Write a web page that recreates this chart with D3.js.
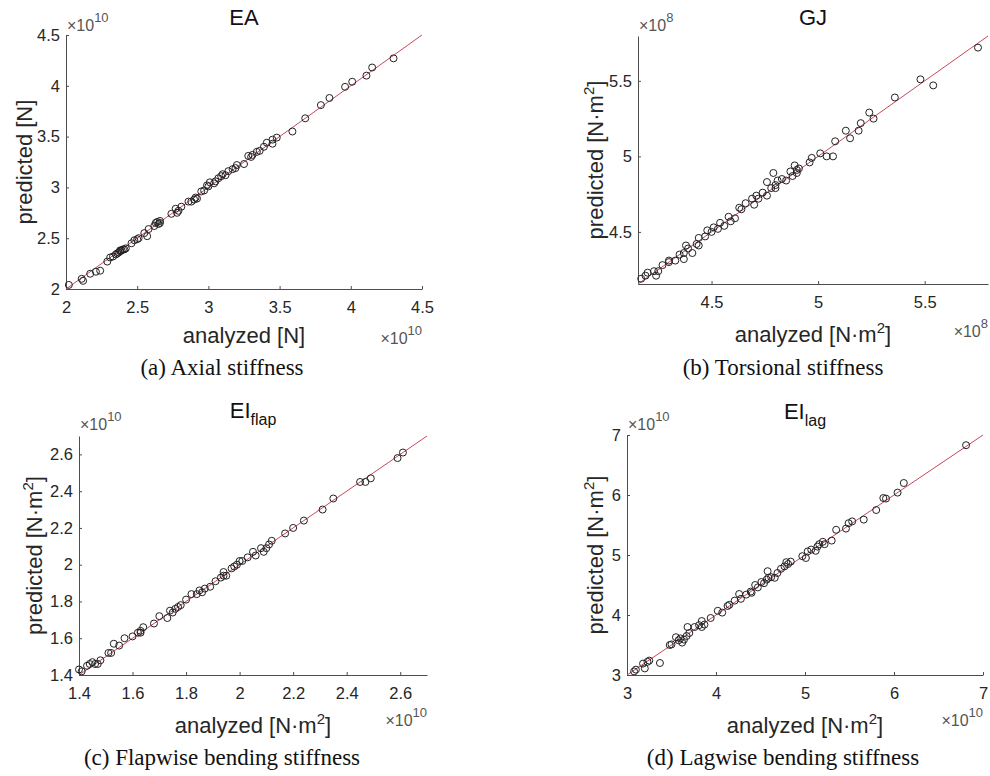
<!DOCTYPE html>
<html>
<head>
<meta charset="utf-8">
<script src="https://cdn.jsdelivr.net/npm/d3@7"></script>
<style>
  body { margin: 0; background: #fff; }
  svg { display: block; font-family: 'Liberation Sans', Arial, sans-serif; }
  .domain, .tick line { stroke: #4d4d4d; }
</style>
</head>
<body>
<svg id="chart" width="990" height="776"></svg>
<script>
/* values are in units of the axis exponent (x10^10 or x10^8) */
const eaAnalyzed = [2.02, 2.11, 2.12, 2.17, 2.21, 2.24, 2.29, 2.31, 2.33, 2.35, 2.36, 2.37, 2.38, 2.38, 2.39, 2.40, 2.41, 2.42, 2.46, 2.48, 2.50, 2.51, 2.55, 2.57, 2.58, 2.62, 2.63, 2.64, 2.65, 2.66, 2.66, 2.74, 2.77, 2.78, 2.79, 2.81, 2.86, 2.88, 2.90, 2.91, 2.92, 2.95, 2.97, 2.99, 3.00, 3.01, 3.04, 3.05, 3.07, 3.09, 3.10, 3.12, 3.14, 3.17, 3.19, 3.20, 3.25, 3.28, 3.30, 3.31, 3.34, 3.36, 3.39, 3.41, 3.45, 3.45, 3.48, 3.59, 3.68, 3.79, 3.85, 3.96, 4.01, 4.11, 4.15, 4.30];
const eaPredicted = [2.04, 2.10, 2.08, 2.15, 2.17, 2.18, 2.27, 2.31, 2.32, 2.34, 2.35, 2.36, 2.37, 2.38, 2.38, 2.39, 2.39, 2.40, 2.45, 2.48, 2.49, 2.50, 2.55, 2.52, 2.59, 2.62, 2.65, 2.66, 2.64, 2.67, 2.65, 2.74, 2.79, 2.75, 2.77, 2.81, 2.86, 2.86, 2.88, 2.90, 2.89, 2.96, 2.97, 3.02, 3.01, 3.05, 3.04, 3.06, 3.09, 3.11, 3.13, 3.12, 3.16, 3.18, 3.19, 3.22, 3.23, 3.31, 3.30, 3.32, 3.35, 3.36, 3.40, 3.44, 3.47, 3.43, 3.49, 3.55, 3.68, 3.81, 3.88, 3.99, 4.04, 4.10, 4.18, 4.27];

const gjAnalyzed = [4.17, 4.19, 4.20, 4.23, 4.24, 4.25, 4.27, 4.30, 4.30, 4.33, 4.35, 4.37, 4.37, 4.38, 4.39, 4.41, 4.43, 4.44, 4.44, 4.47, 4.48, 4.50, 4.51, 4.53, 4.54, 4.56, 4.58, 4.59, 4.61, 4.63, 4.64, 4.66, 4.69, 4.70, 4.71, 4.72, 4.74, 4.76, 4.76, 4.78, 4.79, 4.80, 4.80, 4.81, 4.83, 4.85, 4.87, 4.88, 4.89, 4.90, 4.90, 4.91, 4.96, 4.97, 5.01, 5.04, 5.07, 5.08, 5.13, 5.15, 5.19, 5.20, 5.24, 5.26, 5.36, 5.48, 5.54, 5.75];
const gjPredicted = [4.19, 4.21, 4.23, 4.24, 4.21, 4.24, 4.28, 4.31, 4.30, 4.31, 4.35, 4.36, 4.32, 4.41, 4.39, 4.36, 4.42, 4.46, 4.41, 4.47, 4.51, 4.50, 4.53, 4.52, 4.56, 4.54, 4.60, 4.57, 4.59, 4.66, 4.65, 4.69, 4.72, 4.68, 4.74, 4.72, 4.76, 4.83, 4.74, 4.79, 4.89, 4.81, 4.79, 4.84, 4.85, 4.84, 4.90, 4.87, 4.94, 4.89, 4.91, 4.92, 4.96, 4.99, 5.02, 5.00, 5.00, 5.10, 5.17, 5.12, 5.17, 5.22, 5.29, 5.25, 5.39, 5.51, 5.47, 5.72];

const flapAnalyzed = [1.40, 1.41, 1.43, 1.44, 1.45, 1.46, 1.47, 1.48, 1.51, 1.52, 1.53, 1.55, 1.57, 1.60, 1.62, 1.63, 1.63, 1.64, 1.68, 1.70, 1.73, 1.74, 1.75, 1.76, 1.77, 1.78, 1.80, 1.82, 1.84, 1.85, 1.86, 1.87, 1.89, 1.91, 1.93, 1.94, 1.94, 1.95, 1.97, 1.98, 1.99, 2.00, 2.01, 2.03, 2.05, 2.06, 2.08, 2.09, 2.10, 2.11, 2.12, 2.17, 2.20, 2.24, 2.31, 2.35, 2.45, 2.47, 2.49, 2.59, 2.61];
const flapPredicted = [1.43, 1.42, 1.45, 1.46, 1.47, 1.46, 1.46, 1.48, 1.52, 1.52, 1.57, 1.56, 1.60, 1.61, 1.63, 1.64, 1.63, 1.66, 1.68, 1.72, 1.71, 1.75, 1.74, 1.76, 1.77, 1.78, 1.81, 1.84, 1.84, 1.86, 1.85, 1.87, 1.88, 1.91, 1.93, 1.94, 1.96, 1.94, 1.98, 1.99, 2.00, 2.02, 2.02, 2.04, 2.07, 2.05, 2.09, 2.07, 2.09, 2.11, 2.13, 2.17, 2.20, 2.24, 2.30, 2.36, 2.45, 2.45, 2.47, 2.58, 2.61];

const lagAnalyzed = [3.08, 3.10, 3.18, 3.20, 3.23, 3.25, 3.37, 3.48, 3.50, 3.55, 3.58, 3.60, 3.62, 3.64, 3.67, 3.68, 3.70, 3.76, 3.81, 3.84, 3.84, 3.87, 3.94, 4.02, 4.07, 4.13, 4.15, 4.21, 4.26, 4.28, 4.34, 4.39, 4.40, 4.44, 4.47, 4.51, 4.54, 4.57, 4.58, 4.59, 4.62, 4.66, 4.69, 4.73, 4.77, 4.79, 4.81, 4.84, 4.97, 5.01, 5.03, 5.07, 5.12, 5.14, 5.16, 5.20, 5.22, 5.30, 5.35, 5.46, 5.49, 5.53, 5.66, 5.80, 5.88, 5.91, 6.04, 6.11, 6.81];
const lagPredicted = [3.06, 3.09, 3.19, 3.11, 3.22, 3.24, 3.20, 3.50, 3.51, 3.63, 3.58, 3.61, 3.54, 3.59, 3.65, 3.80, 3.70, 3.80, 3.83, 3.90, 3.80, 3.84, 3.95, 4.07, 4.04, 4.15, 4.17, 4.24, 4.35, 4.27, 4.34, 4.39, 4.37, 4.50, 4.46, 4.55, 4.53, 4.59, 4.73, 4.62, 4.63, 4.62, 4.70, 4.77, 4.81, 4.88, 4.85, 4.89, 4.98, 4.95, 5.06, 5.09, 5.07, 5.14, 5.18, 5.22, 5.18, 5.24, 5.42, 5.44, 5.53, 5.56, 5.59, 5.75, 5.95, 5.94, 6.04, 6.20, 6.83];

const eaTicks = [2, 2.5, 3, 3.5, 4, 4.5];
const gjTicks = [4.5, 5, 5.5];
const flapTicks = [1.4, 1.6, 1.8, 2, 2.2, 2.4, 2.6];
const lagTicks = [3, 4, 5, 6, 7];

const panels = [
  {
    title: ['EA', ''], caption: '(a) Axial stiffness', unit: 'N', exponent: '10',
    analyzed: eaAnalyzed, predicted: eaPredicted, ticks: eaTicks, domain: [2, 4.5],
    box: { left: 66, right: 422, top: 35, bottom: 289 },
    titleY: 25, xLabelY: 343, yLabelX: 32, expTopY: 31, expBottomY: 344, captionX: 222, captionY: 375
  },
  {
    title: ['GJ', ''], caption: '(b) Torsional stiffness', unit: 'N·m', exponent: '8',
    analyzed: gjAnalyzed, predicted: gjPredicted, ticks: gjTicks, domain: [4.155, 5.797],
    box: { left: 638, right: 988, top: 36, bottom: 284 },
    titleY: 25, xLabelY: 342, yLabelX: 603, expTopY: 31, expBottomY: 337, captionX: 783, captionY: 375
  },
  {
    title: ['EI', 'flap'], caption: '(c) Flapwise bending stiffness', unit: 'N·m', exponent: '10',
    analyzed: flapAnalyzed, predicted: flapPredicted, ticks: flapTicks, domain: [1.4, 2.7],
    box: { left: 79, right: 427, top: 436, bottom: 675 },
    titleY: 418, xLabelY: 733, yLabelX: 42, expTopY: 430, expBottomY: 726, captionX: 222, captionY: 765
  },
  {
    title: ['EI', 'lag'], caption: '(d) Lagwise bending stiffness', unit: 'N·m', exponent: '10',
    analyzed: lagAnalyzed, predicted: lagPredicted, ticks: lagTicks, domain: [3, 7],
    box: { left: 627, right: 983, top: 435, bottom: 675 },
    titleY: 419, xLabelY: 733, yLabelX: 603, expTopY: 430, expBottomY: 726, captionX: 783, captionY: 765
  }
];

const svg = d3.select('#chart');

// label text with an optional squared unit, e.g. "analyzed [N·m²]"
function unitLabel(text, prefix, unit) {
  text.append('tspan').text(prefix + ' [' + unit);
  if (unit !== 'N') {
    text.append('tspan').attr('dy', -9).attr('font-size', 15).text('2');
    text.append('tspan').attr('dy', 9).text(']');
  } else {
    text.append('tspan').text(']');
  }
}

function exponentLabel(g, x, y, exponent, anchor) {
  const t = g.append('text')
    .attr('x', x)
    .attr('y', y)
    .attr('text-anchor', anchor)
    .attr('fill', '#555')
    .attr('font-size', 16);
  t.append('tspan').text('×10');
  t.append('tspan').attr('dy', -9).attr('font-size', 13).text(exponent);
}

function styleTicks(a) {
  a.selectAll('.tick text')
    .attr('font-size', 16.5)
    .attr('fill', '#262626');
}

function drawPanel(p) {
  const b = p.box;
  const x = d3.scaleLinear(p.domain, [b.left, b.right]);
  const y = d3.scaleLinear(p.domain, [b.bottom, b.top]);
  const g = svg.append('g');

  /* bottom axis */
  g.append('g')
    .attr('transform', `translate(0, ${b.bottom})`)
    .call(d3.axisBottom(x).tickValues(p.ticks).tickSizeInner(-3).tickSizeOuter(0).tickPadding(12).tickFormat(d3.format('')))
    .call(styleTicks);

  /* left axis */
  g.append('g')
    .attr('transform', `translate(${b.left}, 0)`)
    .call(d3.axisLeft(y).tickValues(p.ticks).tickSizeInner(-3).tickSizeOuter(0).tickPadding(6).tickFormat(d3.format('')))
    .call(styleTicks);

  g.selectAll('.domain').attr('stroke-width', 1);

  /* reference line y = x */
  g.append('path')
    .attr('fill', 'none')
    .attr('stroke', '#c9485a')
    .attr('stroke-width', 1)
    .attr('d', d3.line().x((d) => x(d)).y((d) => y(d))(p.domain));

  /* points */
  g.append('g')
    .selectAll('circle')
    .data(p.analyzed.map((v, i) => [v, p.predicted[i]]))
    .enter()
    .append('circle')
    .attr('cx', (d) => x(d[0]))
    .attr('cy', (d) => y(d[1]))
    .attr('r', 3.5)
    .attr('fill', 'none')
    .attr('stroke', '#222')
    .attr('stroke-width', 1);

  /* title */
  const title = g.append('text')
    .attr('x', (b.left + b.right) / 2)
    .attr('y', p.titleY)
    .attr('text-anchor', 'middle')
    .attr('font-size', 22)
    .attr('fill', '#111');
  title.append('tspan').text(p.title[0]);
  if (p.title[1]) {
    title.append('tspan').attr('dy', 7).attr('font-size', 16).text(p.title[1]);
  }

  /* axis labels */
  const xl = g.append('text')
    .attr('x', (b.left + b.right) / 2)
    .attr('y', p.xLabelY)
    .attr('text-anchor', 'middle')
    .attr('font-size', 22)
    .attr('fill', '#262626');
  unitLabel(xl, 'analyzed', p.unit);

  const yl = g.append('text')
    .attr('transform', `translate(${p.yLabelX}, ${(b.top + b.bottom) / 2}) rotate(-90)`)
    .attr('text-anchor', 'middle')
    .attr('font-size', 22)
    .attr('fill', '#262626');
  unitLabel(yl, 'predicted', p.unit);

  /* exponents */
  exponentLabel(g, b.left + 1, p.expTopY, p.exponent, 'start');
  exponentLabel(g, b.right, p.expBottomY, p.exponent, 'end');

  /* caption */
  g.append('text')
    .attr('x', p.captionX)
    .attr('y', p.captionY)
    .attr('text-anchor', 'middle')
    .attr('font-family', "'Liberation Serif', 'Times New Roman', serif")
    .attr('font-size', 23)
    .attr('fill', '#111')
    .text(p.caption);
}

panels.forEach(drawPanel);
</script>
</body>
</html>
